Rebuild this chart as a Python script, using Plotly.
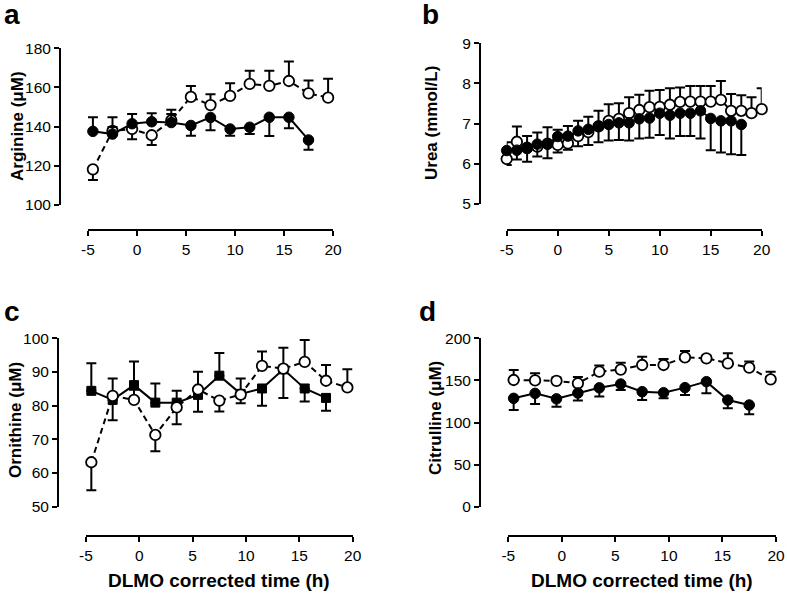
import plotly.graph_objects as go

# ---------------- DATA ----------------
x_ticks = [-5, 0, 5, 10, 15, 20]
x_ticktext = ["-5", "0", "5", "10", "15", "20"]

# Panel a: Arginine (uM)
time_a = [-4.5, -2.5, -0.5, 1.5, 3.5, 5.5, 7.5, 9.5, 11.5, 13.5, 15.5, 17.5, 19.5]
arg_open = [118.2, 137.8, 138.8, 135.6, 143.2, 155.2, 151.0, 155.7, 161.8, 160.8, 163.3, 157.0, 154.8]
arg_open_up = [0, 7.0, 0, 0, 5.4, 5.6, 5.5, 6.4, 6.8, 7.8, 10.0, 6.5, 9.7]
arg_open_dn = [5.5, 0, 5.2, 5.0, 0, 0, 0, 0, 0, 0, 0, 0, 0]
time_a_f = [-4.5, -2.5, -0.5, 1.5, 3.5, 5.5, 7.5, 9.5, 11.5, 13.5, 15.5, 17.5]
arg_fill = [137.6, 136.2, 141.5, 142.5, 142.1, 140.6, 144.7, 138.8, 139.7, 144.8, 144.8, 133.2]
arg_fill_up = [7.2, 3.6, 5.0, 4.4, 4.4, 0, 0, 0, 0, 0, 0, 0]
arg_fill_dn = [0, 0, 0, 0, 0, 5.3, 6.5, 3.5, 3.5, 9.6, 5.6, 5.0]
arg_ticks = [100, 120, 140, 160, 180]

# Panel b: Urea (mmol/L)
time_b = list(range(-5, 21))
urea_open = [6.12, 6.55, 6.40, 6.43, 6.50, 6.47, 6.51, 6.69, 6.79, 6.93, 7.07, 7.12, 7.26,
             7.34, 7.41, 7.42, 7.47, 7.54, 7.55, 7.55, 7.55, 7.59, 7.32, 7.32, 7.26, 7.36]
urea_open_up = [0, 0.38, 0.29, 0.35, 0.41, 0, 0, 0, 0, 0.39, 0.41, 0.39, 0.40,
                0.38, 0.41, 0.42, 0.41, 0.36, 0.39, 0.39, 0.39, 0.47, 0.42, 0.39, 0.40, 0.52]
urea_open_dn = [0.15, 0, 0, 0, 0, 0.19, 0.16, 0.25, 0.32, 0, 0, 0, 0,
                0, 0, 0, 0, 0, 0, 0, 0, 0, 0, 0, 0, 0]
time_b_f = list(range(-5, 19))
urea_fill = [6.33, 6.34, 6.38, 6.49, 6.49, 6.68, 6.69, 6.82, 6.86, 6.94, 6.98, 7.02,
             7.02, 7.12, 7.14, 7.26, 7.21, 7.26, 7.26, 7.32, 7.13, 7.07, 7.07, 6.98]
urea_fill_up = [0.21, 0, 0, 0, 0, 0.17, 0.25, 0.25, 0.31, 0, 0, 0,
                0, 0, 0, 0, 0, 0, 0, 0, 0, 0, 0, 0]
urea_fill_dn = [0, 0.23, 0.33, 0.31, 0.35, 0, 0, 0, 0, 0.40, 0.40, 0.43,
                0.44, 0.49, 0.49, 0.54, 0.58, 0.57, 0.57, 0.69, 0.79, 0.79, 0.83, 0.76]
urea_ticks = [5, 6, 7, 8, 9]

# Panel c: Ornithine (uM)
time_c = [-4.5, -2.5, -0.5, 1.5, 3.5, 5.5, 7.5, 9.5, 11.5, 13.5, 15.5, 17.5, 19.5]
orn_open = [63.2, 82.9, 81.7, 71.3, 79.5, 84.8, 81.5, 83.3, 91.8, 91.0, 93.0, 87.4, 85.4]
orn_open_up = [0, 5.2, 3.0, 0, 0, 5.3, 0, 4.8, 4.3, 6.2, 6.5, 4.7, 5.4]
orn_open_dn = [8.3, 0, 0, 4.8, 5.0, 0, 3.2, 0, 0, 0, 0, 0, 0]
time_c_f = [-4.5, -2.5, -0.5, 1.5, 3.5, 5.5, 7.5, 9.5, 11.5, 13.5, 15.5, 17.5]
orn_fill = [84.4, 81.7, 86.1, 80.9, 80.9, 83.2, 88.9, 83.5, 85.1, 90.8, 85.1, 82.3]
orn_fill_up = [8.2, 0, 7.0, 5.7, 3.5, 0, 6.7, 0, 0, 0, 0, 0]
orn_fill_dn = [0, 6.0, 0, 0, 0, 5.0, 0, 2.8, 5.1, 8.5, 3.9, 3.8]
orn_ticks = [50, 60, 70, 80, 90, 100]

# Panel d: Citrulline (uM)
time_d = [-4.5, -2.5, -0.5, 1.5, 3.5, 5.5, 7.5, 9.5, 11.5, 13.5, 15.5, 17.5, 19.5]
cit_open = [150.5, 150.0, 149.5, 146.5, 160.4, 162.8, 168.3, 168.3, 177.4, 176.2, 170.3, 165.1, 151.3]
cit_open_up = [11.9, 8.5, 4.0, 7.5, 7.3, 8.3, 9.9, 7.0, 7.6, 3.0, 11.9, 7.2, 9.1]
cit_open_dn = [0] * 13
time_d_f = [-4.5, -2.5, -0.5, 1.5, 3.5, 5.5, 7.5, 9.5, 11.5, 13.5, 15.5, 17.5]
cit_fill = [128.7, 134.6, 128.1, 135.0, 141.2, 145.7, 136.6, 135.4, 141.4, 148.5, 126.7, 120.8]
cit_fill_up = [0] * 12
cit_fill_dn = [13.8, 12.6, 9.3, 8.8, 10.3, 7.1, 9.9, 6.7, 8.7, 13.8, 9.9, 11.1]
cit_ticks = [0, 50, 100, 150, 200]

y_titles = ["Arginine (\u03bcM)", "Urea (mmol/L)", "Ornithine (\u03bcM)", "Citrulline (\u03bcM)"]
panel_letters = ["a", "b", "c", "d"]
x_title = "DLMO corrected time (h)"

# ---------------- LAYOUT ----------------
W, H = 787, 593
FONT = "Liberation Sans, Arial, Helvetica, sans-serif"


def px(v):
    return v / W


def py(v):
    return 1 - v / H


# pixel geometry of each panel: (x0, x1, ytop, ybottom, y-axis line x, x-axis line y)
geom = [
    (88, 333, 48.3, 205, 60, 230),
    (506.7, 761.7, 43.3, 204, 480, 230),
    (86, 352.7, 338.3, 506.7, 58, 536),
    (508.3, 776, 338.3, 506.7, 480, 536),
]
yranges = [[100, 180], [5, 9], [50, 100], [0, 200]]
yticks = [arg_ticks, urea_ticks, orn_ticks, cit_ticks]

panels = [
    (time_a, arg_open, arg_open_up, arg_open_dn, time_a_f, arg_fill, arg_fill_up, arg_fill_dn, "circle", True),
    (time_b, urea_open, urea_open_up, urea_open_dn, time_b_f, urea_fill, urea_fill_up, urea_fill_dn, "circle", True),
    (time_c, orn_open, orn_open_up, orn_open_dn, time_c_f, orn_fill, orn_fill_up, orn_fill_dn, "square", False),
    (time_d, cit_open, cit_open_up, cit_open_dn, time_d_f, cit_fill, cit_fill_up, cit_fill_dn, "circle", True),
]

fig = go.Figure()


def err(up, dn):
    return dict(type="data", symmetric=False, array=up, arrayminus=dn,
                color="black", thickness=2, width=5)


for i, (to, vo, uo, do, tf, vf, uf, df, fsym, open_first) in enumerate(panels):
    k = "" if i == 0 else str(i + 1)
    open_tr = go.Scatter(
        x=to, y=vo, mode="lines+markers", xaxis="x" + k, yaxis="y" + k,
        line=dict(color="black", width=2, dash="6px,4px"),
        marker=dict(symbol="circle", size=10.5, color="white", line=dict(color="black", width=1.8)),
        error_y=err(uo, do), cliponaxis=False, showlegend=False)
    fill_tr = go.Scatter(
        x=tf, y=vf, mode="lines+markers", xaxis="x" + k, yaxis="y" + k,
        line=dict(color="black", width=2),
        marker=dict(symbol=fsym, size=10.5 if fsym == "circle" else 9, color="black",
                    line=dict(color="black", width=1)),
        error_y=err(uf, df), cliponaxis=False, showlegend=False)
    if open_first:
        fig.add_trace(open_tr)
        fig.add_trace(fill_tr)
    else:
        fig.add_trace(fill_tr)
        fig.add_trace(open_tr)

layout = dict(width=W, height=H, margin=dict(l=0, r=0, t=0, b=0),
              paper_bgcolor="white", plot_bgcolor="white", showlegend=False,
              font=dict(family=FONT, color="black", size=15))

annotations = []
for i in range(4):
    x0, x1, yt, yb, ylx, xly = geom[i]
    k = "" if i == 0 else str(i + 1)
    layout["xaxis" + k] = dict(
        domain=[px(x0), px(x1)], range=[-5, 20], anchor="free", position=py(xly),
        tickmode="array", tickvals=x_ticks, ticktext=x_ticktext,
        showline=True, linecolor="black", linewidth=2, ticks="outside",
        ticklen=5, tickwidth=2, tickcolor="black", showgrid=False, zeroline=False,
        tickfont=dict(family=FONT, size=15.5, color="black"), automargin=False)
    layout["yaxis" + k] = dict(
        domain=[py(yb), py(yt)], range=yranges[i], anchor="free", position=px(ylx),
        tickmode="array", tickvals=yticks[i],
        showline=True, linecolor="black", linewidth=2, ticks="outside",
        ticklen=5, tickwidth=2, tickcolor="black", showgrid=False, zeroline=False,
        tickfont=dict(family=FONT, size=15.5, color="black"), automargin=False)

# panel letters
letter_pos = [(2, 14), (420, 14), (2, 311), (417, 311)]
for (lx, ly), t in zip(letter_pos, panel_letters):
    annotations.append(dict(text=t, x=px(lx), y=py(ly), xref="paper", yref="paper",
                            xanchor="left", yanchor="middle", showarrow=False,
                            font=dict(family=FONT, size=28, color="black", weight="bold")))

# y titles
ytitle_pos = [(17, 126), (431, 123), (15, 420), (435, 418)]
for (tx, ty), t in zip(ytitle_pos, y_titles):
    annotations.append(dict(text=t, x=px(tx), y=py(ty), xref="paper", yref="paper",
                            xanchor="center", yanchor="middle", textangle=-90, showarrow=False,
                            font=dict(family=FONT, size=17, color="black", weight="bold")))

# x titles (bottom panels)
for cx in [(86 + 352.7) / 2, (508.3 + 776) / 2]:
    annotations.append(dict(text=x_title, x=px(cx), y=py(580), xref="paper", yref="paper",
                            xanchor="center", yanchor="middle", showarrow=False,
                            font=dict(family=FONT, size=19, color="black", weight="bold")))

layout["annotations"] = annotations
fig.update_layout(**layout)
fig.write_html("out.html", config={"displayModeBar": False},
               post_script="document.body.style.margin='0';document.body.style.overflow='hidden';")
